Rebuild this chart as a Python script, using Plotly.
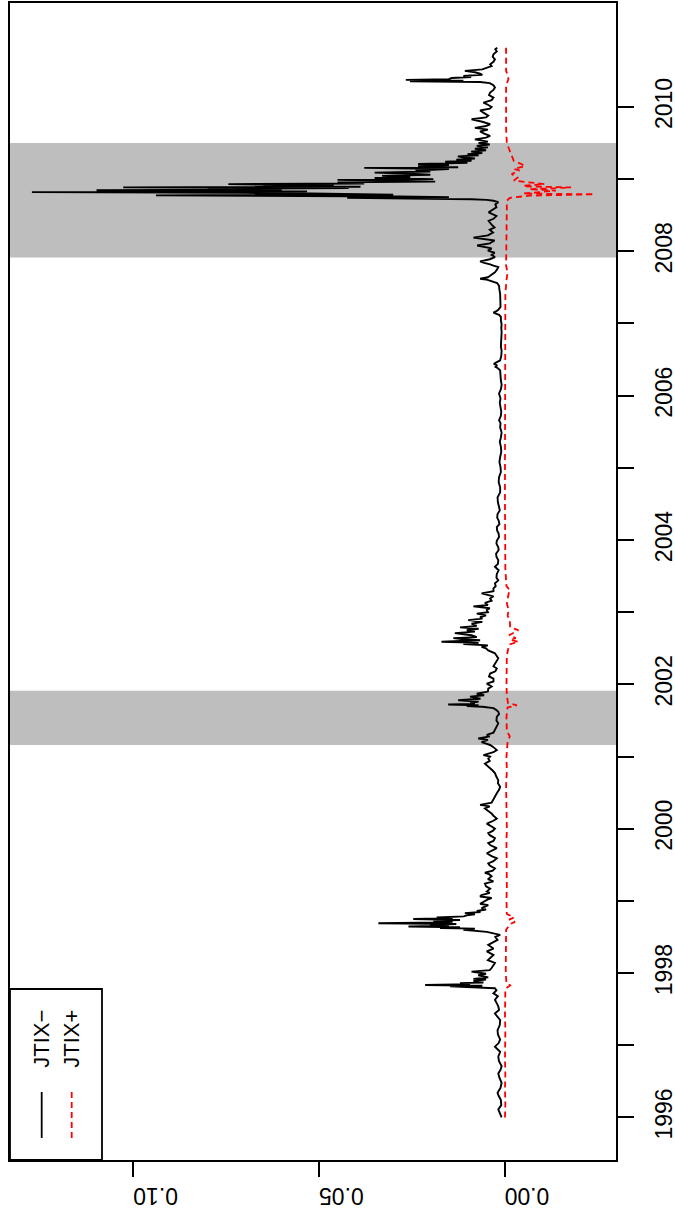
import plotly.graph_objects as go

# ---------------- data ----------------
years_minus = [
    1996.00, 1996.06, 1996.11, 1996.17, 1996.24, 1996.30, 1996.34, 1996.41, 1996.48, 1996.55,
    1996.61, 1996.66, 1996.71, 1996.78, 1996.84, 1996.91, 1996.98, 1997.03, 1997.08, 1997.15,
    1997.21, 1997.28, 1997.35, 1997.40, 1997.44, 1997.49, 1997.54, 1997.59, 1997.63, 1997.68,
    1997.72, 1997.76, 1997.79, 1997.815, 1997.825, 1997.835, 1997.845, 1997.86, 1997.87, 1997.89,
    1997.91, 1997.92, 1997.94, 1997.97, 1997.99, 1998.02, 1998.04, 1998.07, 1998.10, 1998.14,
    1998.18, 1998.21, 1998.25, 1998.30, 1998.34, 1998.39, 1998.43, 1998.46, 1998.50, 1998.53,
    1998.57, 1998.60, 1998.615, 1998.625, 1998.635, 1998.645, 1998.655, 1998.665, 1998.68, 1998.69,
    1998.70, 1998.71, 1998.725, 1998.735, 1998.75, 1998.76, 1998.77, 1998.785, 1998.80, 1998.815,
    1998.83, 1998.845, 1998.86, 1998.88, 1998.90, 1998.92, 1998.94, 1998.96, 1998.99, 1999.02,
    1999.04, 1999.06, 1999.08, 1999.11, 1999.13, 1999.15, 1999.17, 1999.20, 1999.24, 1999.27,
    1999.30, 1999.34, 1999.37, 1999.39, 1999.42, 1999.45, 1999.49, 1999.52, 1999.55, 1999.59,
    1999.62, 1999.66, 1999.70, 1999.73, 1999.77, 1999.80, 1999.83, 1999.87, 1999.91, 1999.94,
    1999.97, 2000.00, 2000.04, 2000.07, 2000.11, 2000.14, 2000.18, 2000.21, 2000.25, 2000.28,
    2000.31, 2000.33, 2000.36, 2000.40, 2000.45, 2000.49, 2000.54, 2000.58, 2000.63, 2000.67,
    2000.72, 2000.77, 2000.81, 2000.84, 2000.87, 2000.90, 2000.94, 2000.97, 2001.00, 2001.02,
    2001.06, 2001.09, 2001.13, 2001.16, 2001.18, 2001.20, 2001.23, 2001.25, 2001.28, 2001.30,
    2001.33, 2001.37, 2001.41, 2001.46, 2001.50, 2001.55, 2001.59, 2001.62, 2001.65, 2001.67,
    2001.69, 2001.70, 2001.71, 2001.72, 2001.73, 2001.74, 2001.76, 2001.78, 2001.80, 2001.83,
    2001.85, 2001.87, 2001.90, 2001.94, 2001.97, 2002.01, 2002.04, 2002.08, 2002.11, 2002.15,
    2002.18, 2002.22, 2002.25, 2002.29, 2002.33, 2002.36, 2002.40, 2002.43, 2002.47, 2002.50,
    2002.52, 2002.54, 2002.56, 2002.575, 2002.59, 2002.60, 2002.61, 2002.625, 2002.64, 2002.655,
    2002.68, 2002.695, 2002.71, 2002.73, 2002.75, 2002.77, 2002.79, 2002.81, 2002.84, 2002.865,
    2002.89, 2002.91, 2002.93, 2002.955, 2002.98, 2003.00, 2003.03, 2003.055, 2003.08, 2003.10,
    2003.13, 2003.16, 2003.19, 2003.22, 2003.26, 2003.29, 2003.33, 2003.36, 2003.40, 2003.44,
    2003.48, 2003.53, 2003.58, 2003.63, 2003.67, 2003.72, 2003.77, 2003.81, 2003.86, 2003.90,
    2003.95, 2003.99, 2004.04, 2004.09, 2004.13, 2004.18, 2004.22, 2004.27, 2004.31, 2004.36,
    2004.41, 2004.46, 2004.52, 2004.59, 2004.66, 2004.73, 2004.80, 2004.87, 2004.94, 2005.01,
    2005.08, 2005.15, 2005.22, 2005.29, 2005.36, 2005.42, 2005.49, 2005.56, 2005.62, 2005.66,
    2005.72, 2005.78, 2005.84, 2005.90, 2005.96, 2006.03, 2006.09, 2006.15, 2006.21, 2006.28,
    2006.35, 2006.38, 2006.40, 2006.42, 2006.44, 2006.46, 2006.49, 2006.55, 2006.62, 2006.68,
    2006.75, 2006.81, 2006.88, 2006.94, 2006.99, 2007.04, 2007.09, 2007.12, 2007.15, 2007.17,
    2007.19, 2007.23, 2007.27, 2007.33, 2007.41, 2007.47, 2007.52, 2007.56, 2007.59, 2007.61,
    2007.62, 2007.64, 2007.66, 2007.69, 2007.71, 2007.75, 2007.78, 2007.80, 2007.82, 2007.84,
    2007.86, 2007.89, 2007.92, 2007.95, 2007.98, 2008.01, 2008.04, 2008.08, 2008.11, 2008.15,
    2008.17, 2008.19, 2008.22, 2008.26, 2008.30, 2008.33, 2008.37, 2008.42, 2008.45, 2008.49,
    2008.54, 2008.58, 2008.61, 2008.65, 2008.68, 2008.70, 2008.712, 2008.722, 2008.73, 2008.74,
    2008.75, 2008.76, 2008.775, 2008.785, 2008.80, 2008.81, 2008.82, 2008.83, 2008.845, 2008.855,
    2008.865, 2008.875, 2008.885, 2008.895, 2008.905, 2008.915, 2008.93, 2008.94, 2008.955, 2008.965,
    2008.975, 2008.99, 2009.00, 2009.015, 2009.03, 2009.045, 2009.06, 2009.075, 2009.09, 2009.105,
    2009.12, 2009.14, 2009.155, 2009.165, 2009.18, 2009.195, 2009.21, 2009.225, 2009.24, 2009.255,
    2009.27, 2009.285, 2009.30, 2009.315, 2009.33, 2009.345, 2009.36, 2009.38, 2009.40, 2009.42,
    2009.44, 2009.46, 2009.48, 2009.50, 2009.52, 2009.55, 2009.575, 2009.60, 2009.63, 2009.66,
    2009.685, 2009.71, 2009.735, 2009.76, 2009.795, 2009.83, 2009.855, 2009.88, 2009.915, 2009.95,
    2009.975, 2010.00, 2010.03, 2010.06, 2010.095, 2010.13, 2010.165, 2010.20, 2010.235, 2010.27,
    2010.30, 2010.33, 2010.345, 2010.355, 2010.365, 2010.375, 2010.385, 2010.40, 2010.415, 2010.43,
    2010.445, 2010.46, 2010.48, 2010.50, 2010.52, 2010.54, 2010.565, 2010.59, 2010.625, 2010.66,
    2010.695, 2010.73, 2010.75, 2010.77, 2010.80, 2010.82,
]
jtix_minus = [
    0.0008, 0.0014, 0.0017, 0.0009, 0.0010, 0.0016, 0.0019, 0.0011, 0.0008, 0.0014,
    0.0017, 0.0011, 0.0008, 0.0015, 0.0017, 0.0012, 0.0026, 0.0016, 0.0012, 0.0018,
    0.0019, 0.0013, 0.0012, 0.0020, 0.0026, 0.0015, 0.0017, 0.0022, 0.0026, 0.0018,
    0.0030, 0.0022, 0.0026, 0.0147, 0.0060, 0.0214, 0.0093, 0.0120, 0.0057, 0.0084,
    0.0050, 0.0084, 0.0044, 0.0071, 0.0050, 0.0089, 0.0040, 0.0035, 0.0030, 0.0026,
    0.0045, 0.0039, 0.0030, 0.0048, 0.0030, 0.0044, 0.0028, 0.0019, 0.0025, 0.0012,
    0.0048, 0.0111, 0.0080, 0.0174, 0.0120, 0.0259, 0.0150, 0.0201, 0.0130, 0.0340,
    0.0174, 0.0140, 0.0192, 0.0120, 0.0246, 0.0140, 0.0183, 0.0110, 0.0102, 0.0080,
    0.0107, 0.0065, 0.0075, 0.0050, 0.0062, 0.0050, 0.0044, 0.0066, 0.0057, 0.0045,
    0.0035, 0.0066, 0.0062, 0.0040, 0.0048, 0.0044, 0.0039, 0.0050, 0.0053, 0.0030,
    0.0045, 0.0035, 0.0042, 0.0053, 0.0032, 0.0026, 0.0040, 0.0044, 0.0030, 0.0021,
    0.0035, 0.0048, 0.0030, 0.0021, 0.0038, 0.0044, 0.0030, 0.0026, 0.0040, 0.0044,
    0.0032, 0.0026, 0.0038, 0.0048, 0.0030, 0.0021, 0.0030, 0.0035, 0.0045, 0.0053,
    0.0040, 0.0066, 0.0035, 0.0030, 0.0024, 0.0021, 0.0015, 0.0012, 0.0018, 0.0017,
    0.0022, 0.0026, 0.0033, 0.0039, 0.0045, 0.0053, 0.0040, 0.0044, 0.0039, 0.0057,
    0.0030, 0.0021, 0.0030, 0.0039, 0.0050, 0.0062, 0.0045, 0.0071, 0.0040, 0.0048,
    0.0030, 0.0026, 0.0020, 0.0017, 0.0022, 0.0021, 0.0015, 0.0017, 0.0024, 0.0030,
    0.0060, 0.0102, 0.0070, 0.0152, 0.0080, 0.0093, 0.0070, 0.0125, 0.0065, 0.0093,
    0.0055, 0.0075, 0.0045, 0.0044, 0.0035, 0.0048, 0.0030, 0.0030, 0.0042, 0.0039,
    0.0025, 0.0021, 0.0030, 0.0026, 0.0020, 0.0017, 0.0022, 0.0026, 0.0044, 0.0050,
    0.0062, 0.0045, 0.0111, 0.0070, 0.0170, 0.0080, 0.0066, 0.0110, 0.0138, 0.0075,
    0.0089, 0.0110, 0.0134, 0.0080, 0.0102, 0.0070, 0.0120, 0.0075, 0.0089, 0.0060,
    0.0098, 0.0060, 0.0066, 0.0050, 0.0075, 0.0045, 0.0048, 0.0040, 0.0084, 0.0045,
    0.0053, 0.0035, 0.0039, 0.0030, 0.0062, 0.0030, 0.0030, 0.0024, 0.0026, 0.0017,
    0.0022, 0.0021, 0.0016, 0.0026, 0.0018, 0.0017, 0.0022, 0.0023, 0.0016, 0.0017,
    0.0022, 0.0021, 0.0015, 0.0016, 0.0020, 0.0021, 0.0014, 0.0016, 0.0020, 0.0019,
    0.0013, 0.0015, 0.0018, 0.0019, 0.0012, 0.0012, 0.0016, 0.0015, 0.0010, 0.0011,
    0.0014, 0.0012, 0.0009, 0.0010, 0.0013, 0.0010, 0.0008, 0.0012, 0.0011, 0.0015,
    0.0010, 0.0009, 0.0010, 0.0013, 0.0011, 0.0015, 0.0010, 0.0008, 0.0010, 0.0011,
    0.0012, 0.0018, 0.0026, 0.0020, 0.0029, 0.0022, 0.0012, 0.0009, 0.0008, 0.0010,
    0.0009, 0.0010, 0.0008, 0.0009, 0.0008, 0.0010, 0.0010, 0.0015, 0.0030, 0.0022,
    0.0017, 0.0011, 0.0011, 0.0013, 0.0012, 0.0014, 0.0015, 0.0020, 0.0039, 0.0050,
    0.0066, 0.0045, 0.0039, 0.0030, 0.0026, 0.0020, 0.0017, 0.0030, 0.0039, 0.0055,
    0.0066, 0.0040, 0.0026, 0.0035, 0.0027, 0.0045, 0.0035, 0.0074, 0.0040, 0.0027,
    0.0050, 0.0084, 0.0045, 0.0031, 0.0040, 0.0027, 0.0035, 0.0043, 0.0030, 0.0022,
    0.0043, 0.0030, 0.0022, 0.0025, 0.0017, 0.0030, 0.0048, 0.0089, 0.0290, 0.0424,
    0.0150, 0.0285, 0.0939, 0.0300, 0.0522, 0.0700, 0.1273, 0.0532, 0.1099, 0.0600,
    0.0800, 0.0420, 0.1027, 0.0388, 0.0650, 0.0460, 0.0744, 0.0378, 0.0450, 0.0187,
    0.0300, 0.0450, 0.0192, 0.0350, 0.0254, 0.0330, 0.0200, 0.0254, 0.0350, 0.0200,
    0.0240, 0.0150, 0.0378, 0.0125, 0.0233, 0.0150, 0.0233, 0.0100, 0.0160, 0.0089,
    0.0130, 0.0080, 0.0110, 0.0126, 0.0070, 0.0100, 0.0060, 0.0090, 0.0050, 0.0080,
    0.0045, 0.0075, 0.0040, 0.0070, 0.0045, 0.0080, 0.0050, 0.0039, 0.0055, 0.0066,
    0.0045, 0.0080, 0.0050, 0.0039, 0.0060, 0.0089, 0.0050, 0.0044, 0.0055, 0.0066,
    0.0040, 0.0035, 0.0045, 0.0057, 0.0035, 0.0030, 0.0042, 0.0039, 0.0030, 0.0026,
    0.0030, 0.0040, 0.0066, 0.0255, 0.0111, 0.0266, 0.0150, 0.0143, 0.0090, 0.0111,
    0.0060, 0.0066, 0.0080, 0.0107, 0.0060, 0.0048, 0.0035, 0.0039, 0.0030, 0.0026,
    0.0032, 0.0030, 0.0024, 0.0021, 0.0025, 0.0020,
]

years_plus = [
    1996.00, 1996.20, 1996.40, 1996.60, 1996.80, 1997.00, 1997.20, 1997.40, 1997.60, 1997.78,
    1997.83, 1997.86, 1998.00, 1998.20, 1998.40, 1998.60, 1998.68, 1998.71, 1998.74, 1998.77,
    1998.82, 1999.00, 1999.20, 1999.40, 1999.60, 1999.80, 2000.00, 2000.20, 2000.40, 2000.60,
    2000.80, 2001.00, 2001.20, 2001.28, 2001.35, 2001.55, 2001.68, 2001.71, 2001.74, 2001.85,
    2002.00, 2002.20, 2002.40, 2002.55, 2002.59, 2002.62, 2002.64, 2002.68, 2002.75, 2002.79,
    2002.89, 2002.95, 2003.03, 2003.12, 2003.26, 2003.30, 2003.36, 2003.60, 2004.00, 2004.50,
    2005.00, 2005.50, 2006.00, 2006.50, 2007.00, 2007.40, 2007.60, 2007.70, 2007.80, 2008.00,
    2008.30, 2008.60, 2008.70, 2008.74, 2008.77, 2008.79, 2008.80, 2008.82, 2008.84, 2008.86,
    2008.885, 2008.90, 2008.91, 2008.93, 2008.95, 2008.98, 2009.02, 2009.07, 2009.12, 2009.14,
    2009.18, 2009.21, 2009.25, 2009.32, 2009.39, 2009.50, 2009.70, 2010.00, 2010.30, 2010.38,
    2010.42, 2010.50, 2010.82,
]
jtix_plus = [
    -0.0001, -0.0002, -0.0001, -0.0002, -0.0001, -0.0002, -0.0002, -0.0001, -0.0002, -0.0002,
    -0.0015, -0.0005, -0.0003, -0.0003, -0.0003, -0.0004, -0.0015, -0.0028, -0.0012, -0.0025,
    -0.0006, -0.0005, -0.0006, -0.0005, -0.0006, -0.0005, -0.0006, -0.0005, -0.0004, -0.0004,
    -0.0006, -0.0005, -0.0008, -0.0014, -0.0006, -0.0005, -0.0008, -0.0033, -0.0009, -0.0006,
    -0.0005, -0.0005, -0.0006, -0.0012, -0.0037, -0.0015, -0.0030, -0.0012, -0.0037, -0.0015,
    -0.0014, -0.0008, -0.0011, -0.0006, -0.0011, -0.0015, -0.0005, -0.0002, -0.0001, -0.0001,
    -0.0001, -0.0001, -0.0001, -0.0001, -0.0001, -0.0002, -0.0005, -0.0008, -0.0004, -0.0005,
    -0.0006, -0.0006, -0.0006, -0.0014, -0.0066, -0.0241, -0.0050, -0.0097, -0.0138, -0.0066,
    -0.0179, -0.0050, -0.0055, -0.0107, -0.0076, -0.0025, -0.0035, -0.0019, -0.0040, -0.0025,
    -0.0055, -0.0045, -0.0025, -0.0019, -0.0014, -0.0006, -0.0004, -0.0004, -0.0004, -0.0010,
    -0.0010, -0.0004, -0.0004,
]

recession_start = [2001.16, 2007.915]
recession_end = [2001.91, 2009.50]

year_ticks = list(range(1996, 2011))
year_labels = [str(y) if y % 2 == 0 else "" for y in year_ticks]
value_ticks = [0.00, 0.05, 0.10]
value_labels = ["0.00", "0.05", "0.10"]
legend_labels = ["JTIX\u2212", "JTIX+"]

# ---------------- figure ----------------
FONT = "Liberation Sans, Arial, Helvetica, sans-serif"
fig = go.Figure()

fig.add_trace(go.Scatter(x=jtix_minus, y=years_minus, mode="lines",
                         line=dict(color="black", width=1.9), showlegend=False))
fig.add_trace(go.Scatter(x=jtix_plus, y=years_plus, mode="lines",
                         line=dict(color="#FF0000", width=1.8, dash="6px,4px"), showlegend=False))

for s, e in zip(recession_start, recession_end):
    fig.add_shape(type="rect", xref="paper", x0=0, x1=1, yref="y", y0=s, y1=e,
                  fillcolor="#BEBEBE", line=dict(width=0), layer="below")

# legend box (drawn manually, rotated like the reference)
fig.add_shape(type="rect", xref="paper", yref="paper", x0=0, x1=0.1518, y0=0, y1=0.1478,
              line=dict(color="black", width=1.8), fillcolor="rgba(0,0,0,0)")
fig.add_shape(type="line", xref="paper", yref="paper", x0=0.0523, x1=0.0523, y0=0.019, y1=0.0588,
              line=dict(color="black", width=1.8))
fig.add_shape(type="line", xref="paper", yref="paper", x0=0.1018, x1=0.1018, y0=0.019, y1=0.0588,
              line=dict(color="#FF0000", width=1.8, dash="6px,4px"))
for xp, txt in zip([0.0523, 0.1018], legend_labels):
    fig.add_annotation(xref="paper", yref="paper", x=xp, y=0.0778, text=txt, showarrow=False,
                       textangle=-90, xanchor="center", yanchor="bottom",
                       font=dict(family=FONT, size=22, color="black"))

fig.update_xaxes(range=[0.1332, -0.0300], tickmode="array", tickvals=value_ticks,
                 ticktext=value_labels, tickangle=180, ticks="outside", ticklen=15,
                 tickwidth=1.8, tickcolor="black", showgrid=False, zeroline=False,
                 showline=True, linecolor="black", linewidth=1.8, mirror=True,
                 automargin=False, ticklabelstandoff=6,
                 tickfont=dict(family=FONT, size=23, color="black"))
fig.update_yaxes(range=[1995.41, 2011.44], side="right", tickmode="array", tickvals=year_ticks,
                 ticktext=year_labels, tickangle=-90, ticks="outside", ticklen=16,
                 tickwidth=1.8, tickcolor="black", showgrid=False, zeroline=False,
                 showline=True, linecolor="black", linewidth=1.8, mirror=True,
                 automargin=False, ticklabelstandoff=10,
                 tickfont=dict(family=FONT, size=23, color="black"))

fig.update_layout(width=675, height=1228, margin=dict(l=10, r=59, t=3, b=68, autoexpand=False),
                  paper_bgcolor="white", plot_bgcolor="white", showlegend=False)

fig.write_html("out.html", config={"displayModeBar": False},
               post_script="document.body.style.margin='0';")
